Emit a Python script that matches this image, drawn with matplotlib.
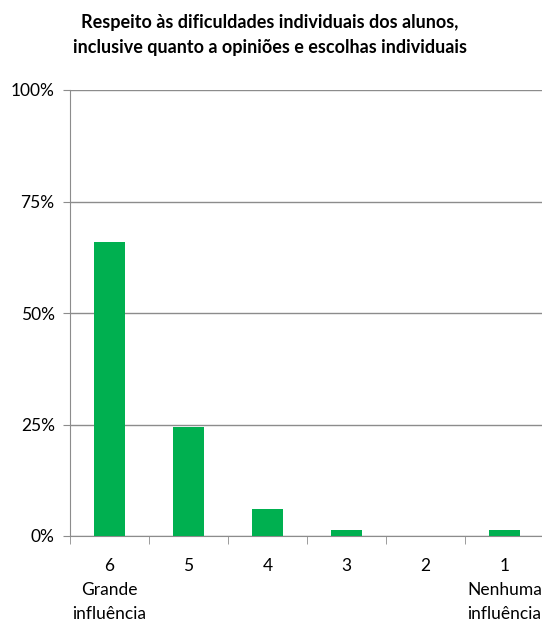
import matplotlib.pyplot as plt
from matplotlib.ticker import FixedLocator, PercentFormatter

categories = ["6", "5", "4", "3", "2", "1"]
sublabels = ["Grande\ninfluência", "", "", "", "", "Nenhuma\ninfluência"]
values = [65.9, 24.4, 6.0, 1.35, 0.0, 1.35]
yticks = [0, 25, 50, 75, 100]

GREEN = "#00b050"
GRID = "#8c8c8c"

plt.rcParams["font.family"] = ["Lato", "DejaVu Sans"]

fig = plt.figure(figsize=(5.42, 6.26), dpi=100)
ax = fig.add_axes([70 / 542, 1 - 536 / 626, 474 / 542, 446 / 626])

x = list(range(len(categories)))
ax.bar(x, values, width=0.4, color=GREEN, zorder=3)

ax.set_xlim(-0.5, len(categories) - 0.5)
ax.set_ylim(0, 100)
ax.yaxis.set_major_locator(FixedLocator(yticks))
ax.yaxis.set_major_formatter(PercentFormatter(decimals=0))
ax.grid(axis="y", color=GRID, linewidth=1, zorder=0)

labels = [c + ("\n" + s if s else "") for c, s in zip(categories, sublabels)]
ax.set_xticks(x)
ax.set_xticklabels(labels, linespacing=1.6, va="top")
ax.set_xticks([i - 0.5 for i in range(len(categories) + 1)], minor=True)
ax.tick_params(axis="x", which="major", length=0, pad=16, labelsize=12.5, colors="#000000")
ax.tick_params(axis="x", which="minor", length=6, color=GRID, direction="out")
ax.tick_params(axis="y", length=5, color=GRID, labelsize=12.5, pad=6)

for side in ["top", "right"]:
    ax.spines[side].set_visible(False)
for side in ["left", "bottom"]:
    ax.spines[side].set_color(GRID)

fig.text(0.498, 0.978,
         "Respeito às dificuldades individuais dos alunos,\ninclusive quanto a opiniões e escolhas individuais",
         ha="center", va="top", fontsize=13, fontweight="bold", linespacing=1.6)

fig.savefig("out.png", dpi=100)
plt.close(fig)
